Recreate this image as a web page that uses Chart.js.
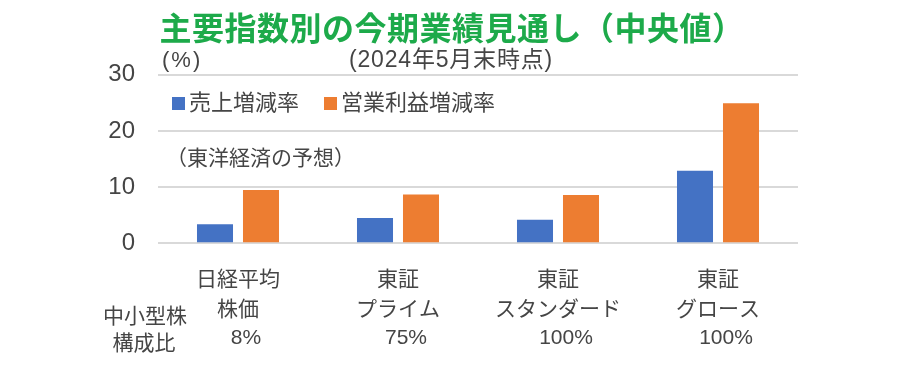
<!DOCTYPE html>
<html>
<head>
<meta charset="utf-8">
<script src="https://cdn.jsdelivr.net/npm/chart.js@4.4.1/dist/chart.umd.min.js"></script>
<style>
  html, body { margin: 0; padding: 0; background: #fff; }
  #wrap { width: 900px; height: 370px; position: relative; }
</style>
</head>
<body>
<div id="wrap"><canvas id="c" width="900" height="370"></canvas></div>
<script>
// ---- data ----
const categories = [["日経平均", "株価"], ["東証", "プライム"], ["東証", "スタンダード"], ["東証", "グロース"]];
const salesGrowth = [3.4, 4.5, 4.2, 12.9];
const opProfitGrowth = [9.5, 8.7, 8.6, 24.9];
const smallMidShare = ["8%", "75%", "100%", "100%"];
const seriesNames = ["売上増減率", "営業利益増減率"];
const yTicks = [0, 10, 20, 30];
const titleText = "主要指数別の今期業績見通し（中央値）";
const subtitleText = "(2024年5月末時点)";
const unitText = "(%)";
const noteText = "（東洋経済の予想）";
const rowHeader = ["中小型株", "構成比"];

const FONT = '"Liberation Sans", "Noto Sans CJK JP", sans-serif';
const CJK = '"Noto Sans CJK JP", sans-serif';
const TEXT = '#454545';

const annotations = {
  id: 'annotations',
  afterDraw(chart) {
    const ctx = chart.ctx;
    const xs = chart.scales.x;
    ctx.save();
    // title
    ctx.fillStyle = '#1DAA4A';
    ctx.font = 'bold 32px ' + CJK;
    ctx.textAlign = 'center';
    ctx.textBaseline = 'middle';
    try { ctx.letterSpacing = '0.5px'; } catch (e) {}
    ctx.fillText(titleText, 452, 28);
    // subtitle
    ctx.fillStyle = TEXT;
    ctx.font = '23px ' + FONT;
    try { ctx.letterSpacing = '0.8px'; } catch (e) {}
    ctx.fillText(subtitleText, 451, 61);
    ctx.textAlign = 'left';
    ctx.font = '22px ' + FONT;
    try { ctx.letterSpacing = '2px'; } catch (e) {}
    ctx.fillText(unitText, 162, 61);
    try { ctx.letterSpacing = '0px'; } catch (e) {}
    // legend
    const ds = chart.data.datasets;
    let lx = 172;
    ctx.font = '22px ' + FONT;
    ds.forEach((d, i) => {
      ctx.fillStyle = d.backgroundColor;
      ctx.fillRect(lx, 97, 13, 13);
      ctx.fillStyle = TEXT;
      ctx.fillText(d.label, lx + 17, 104);
      lx += 17 + ctx.measureText(d.label).width + 25;
    });
    // note
    ctx.font = '21px ' + CJK;
    ctx.fillText(noteText, 166, 157);
    // row header
    ctx.font = '21px ' + FONT;
    ctx.textAlign = 'center';
    ctx.fillText(rowHeader[0], 145, 317);
    ctx.fillText(rowHeader[1], 144, 344);
    // shares
    smallMidShare.forEach((s, i) => {
      ctx.fillText(s, xs.getPixelForValue(i) + 8, 338);
    });
    ctx.restore();
  }
};

new Chart(document.getElementById('c'), {
  type: 'bar',
  data: {
    labels: categories,
    datasets: [
      { label: seriesNames[0], data: salesGrowth, backgroundColor: '#4472C4' },
      { label: seriesNames[1], data: opProfitGrowth, backgroundColor: '#ED7D31' }
    ]
  },
  options: {
    responsive: false,
    animation: false,
    events: [],
    layout: { padding: { left: 0, right: 102, top: 74.7, bottom: 0 } },
    datasets: { bar: { categoryPercentage: 0.575, barPercentage: 0.783 } },
    plugins: { legend: { display: false }, title: { display: false }, tooltip: { enabled: false } },
    scales: {
      x: {
        grid: { display: false },
        border: { display: false },
        ticks: {
          color: TEXT,
          font: { family: FONT, size: 21, lineHeight: 1.43 },
          padding: 14,
          maxRotation: 0,
          autoSkip: false
        },
        afterFit(s) { s.height = 370 - 243.3; }
      },
      y: {
        min: 0, max: 30,
        afterBuildTicks(s) { s.ticks = yTicks.map(v => ({ value: v })); },
        grid: { color: '#D9D9D9', lineWidth: 2, drawTicks: false },
        border: { display: false },
        ticks: {
          color: TEXT,
          font: { family: FONT, size: 24 },
          padding: 23
        },
        afterFit(s) { s.width = 158; }
      }
    }
  },
  plugins: [annotations]
});
</script>
</body>
</html>
